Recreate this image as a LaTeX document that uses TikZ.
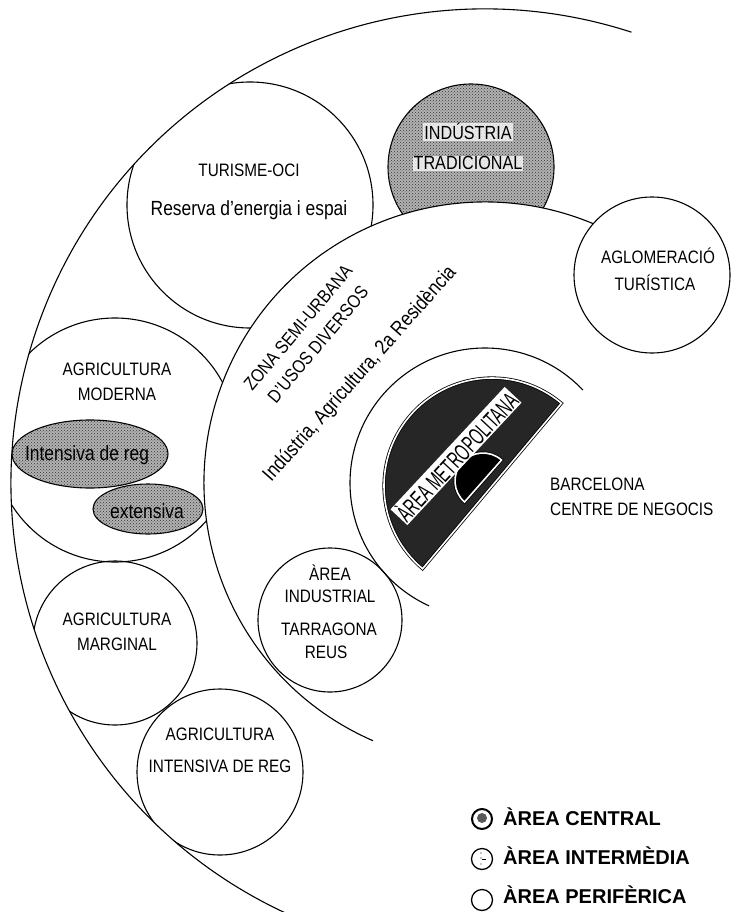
\documentclass[tikz,border=0pt]{standalone}
\usepackage{fontspec}
\setmainfont{Liberation Sans}[FakeStretch=0.85]
\newfontfamily\metrofont{Liberation Sans}[FakeStretch=0.6]
\newfontfamily\legendfont{Liberation Sans}
\usetikzlibrary{patterns}
\newcommand{\setfs}[2]{\fontsize{#1}{#2}\selectfont}
\tikzset{
  ring/.style={draw=black, line width=1.1pt},
  spot/.style={draw=black, line width=1.1pt},
  stipple/.style={fill=black!30, postaction={pattern=crosshatch dots, pattern color=black!80}},
  metro/.style={draw=black, line width=0.8pt, double=white, double distance=1.6pt, fill=black!85},
  lbl/.style={inner sep=0pt, anchor=base, font=\setfs{18}{25}},
  txt/.style={inner sep=0pt, anchor=base, font=\setfs{20.5}{25}},
  legtxt/.style={inner sep=0pt, anchor=base west, font=\legendfont\bfseries\setfs{20}{24}}
}
\begin{document}
\begin{tikzpicture}[x=1pt, y=-1pt]
\useasboundingbox (0,0) rectangle (737,912);
\coordinate (O) at (485,483);
\begin{scope}
  \clip (O) circle[radius=474pt];
  \draw[spot] (250,205) circle[radius=123pt];
  \draw[spot, stipple] (471,167) circle[radius=83pt];
  \draw[spot] (115,440) circle[radius=122pt];
  \draw[spot] (115,643) circle[radius=82pt];
  \draw[spot] (220,772) circle[radius=83pt];
  \draw[spot, stipple] (90,454) ellipse[x radius=78pt, y radius=34pt];
  \draw[spot, stipple] (148,509) ellipse[x radius=55pt, y radius=25pt];
\end{scope}
\fill[white] (O) circle[radius=281pt];
\draw[ring] (O) ++(72:474pt) arc[start angle=72, end angle=245, radius=474pt];
\draw[ring] (O) ++(67:281pt) arc[start angle=67, end angle=246.5, radius=281pt];
\draw[ring] (O) ++(43.5:135pt) arc[start angle=43.5, end angle=245.5, radius=135pt];
\draw[spot, fill=white] (652,275) circle[radius=78pt];
\draw[spot] (330,620) circle[radius=72pt];
\draw[metro] (492,486) ++(50:108pt) arc[start angle=50, end angle=230, radius=108pt] -- cycle;
\draw[metro, fill=black] (483,481) ++(48.6:28pt) arc[start angle=48.6, end angle=228.6, radius=28pt] -- cycle;

\node[lbl] (turisme) at (249,177) {TURISME-OCI};
\node[txt] (reserva) at (249,215) {Reserva d'energia i espai};
\node[lbl, font=\setfs{19}{25}, fill=white, fill opacity=0.75, text opacity=1, inner sep=1pt] (industria) at (468,140) {INDÚSTRIA};
\node[lbl, font=\setfs{19}{25}, fill=white, fill opacity=0.75, text opacity=1, inner sep=1pt] (tradicional) at (468,170) {TRADICIONAL};
\node[lbl] (aglomeracio) at (658,263) {AGLOMERACIÓ};
\node[lbl] (turistica) at (655,290) {TURÍSTICA};
\node[lbl] (agrimod) at (117,375) {AGRICULTURA};
\node[lbl] (moderna) at (117,400) {MODERNA};
\node[txt] (intensiva) at (87,460) {Intensiva de reg};
\node[txt] (extensiva) at (147,518) {extensiva};
\node[lbl] (agrimarg) at (117,625) {AGRICULTURA};
\node[lbl] (marginal) at (117,650) {MARGINAL};
\node[lbl] (agrireg) at (220,740) {AGRICULTURA};
\node[lbl] (intreg) at (220,772) {INTENSIVA DE REG};
\node[lbl] (area) at (330,580) {ÀREA};
\node[lbl] (industrial) at (330,602) {INDUSTRIAL};
\node[lbl] (tarragona) at (329,635) {TARRAGONA};
\node[lbl] (reus) at (326,658) {REUS};
\node[lbl] (barcelona) at (550,490) [anchor=base west] {BARCELONA};
\node[lbl] (negocis) at (550,515) [anchor=base west] {CENTRE DE NEGOCIS};
\node[inner sep=0pt, align=center, font=\setfs{18.5}{26}, rotate=50] (zona) at (308,336) {ZONA SEMI-URBANA\\D'USOS DIVERSOS};
\node[inner sep=0pt, font=\setfs{20.5}{25}, rotate=48.5] (usos) at (360,374) {Indústria, Agricultura, 2a Residència};
\node[inner sep=1pt, fill=white, font=\metrofont\setfs{24}{24}, rotate=47] (metrotxt) at (456,456) {ÀREA\,METROPOLITANA};

\draw[line width=2pt] (482,819) circle[radius=10pt];
\fill[black!65] (482,818) circle[radius=5pt];
\draw[line width=1.3pt] (482,859) circle[radius=10.5pt];
\fill (481,853) circle[radius=0.7pt] (481,858) circle[radius=0.7pt] (481,864) circle[radius=0.7pt];
\draw[line width=0.8pt] (482,859) -- (486,859);
\draw[line width=1.3pt] (482,900) circle[radius=10.5pt];
\node[legtxt] (central) at (503,825) {ÀREA CENTRAL};
\node[legtxt] (intermedia) at (503,864) {ÀREA INTERMÈDIA};
\node[legtxt] (periferica) at (503,903) {ÀREA PERIFÈRICA};
\end{tikzpicture}
\end{document}
